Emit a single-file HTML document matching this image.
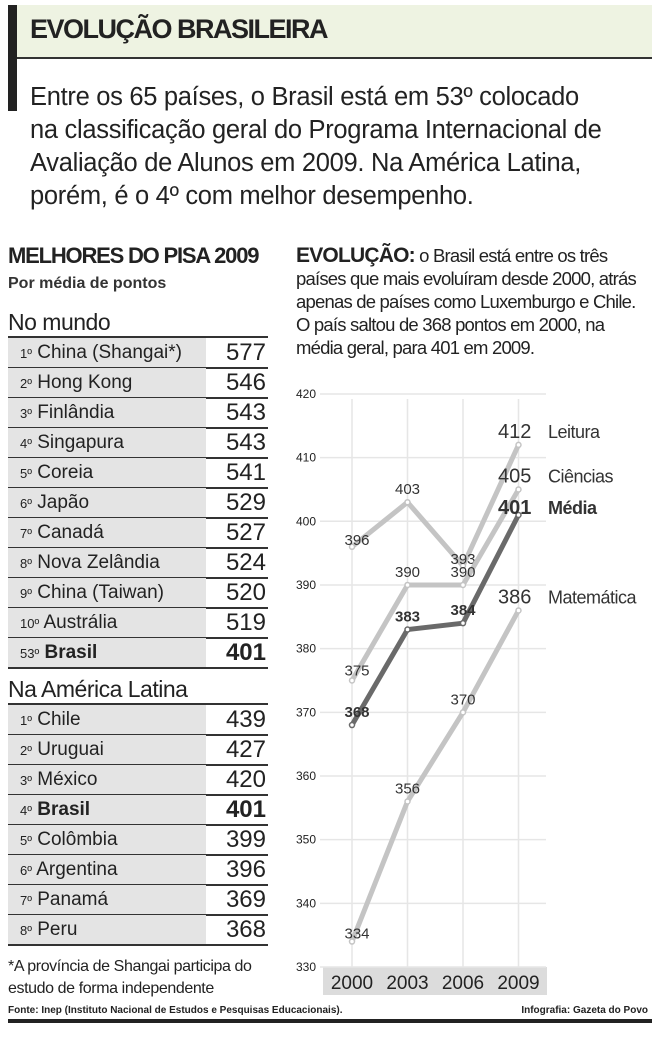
<!DOCTYPE html>
<html><head><meta charset="utf-8"><style>
body{margin:0;width:660px;height:1042px;background:#fff;font-family:"Liberation Sans",sans-serif;color:#222;position:relative;overflow:hidden}
.a{position:absolute;white-space:nowrap}
.row{position:absolute;left:8px;width:260px;height:29px;border-bottom:2px solid #333}
.row .l{position:absolute;left:0;top:0;width:198px;height:29px;background:#e4e4e4;font-size:19px;line-height:30px;padding-left:12px;box-sizing:border-box}
.row .l small{font-size:13px}
.row .v{position:absolute;right:2px;top:0;font-size:24px;line-height:30px}
</style></head><body>
<div class="a" style="left:8px;top:5px;width:9px;height:106px;background:#222"></div>
<div class="a" style="left:17px;top:5px;width:635px;height:52px;background:#eef3e2;border-bottom:2px solid #333"></div>
<div class="a" style="left:30px;top:14px;font-size:27px;font-weight:bold;letter-spacing:-1.5px">EVOLUÇÃO BRASILEIRA</div>
<div class="a" style="left:30px;top:81px;font-size:25.5px;line-height:33px;letter-spacing:-0.3px">Entre os 65 países, o Brasil está em 53º colocado<br>na classificação geral do Programa Internacional de<br>Avaliação de Alunos em 2009. Na América Latina,<br>porém, é o 4º com melhor desempenho.</div>

<div class="a" style="left:8px;top:243px;font-size:22px;font-weight:bold;letter-spacing:-1.2px">MELHORES DO PISA 2009</div>
<div class="a" style="left:8px;top:275px;font-size:16px;font-weight:bold;color:#333">Por média de pontos</div>
<div class="a" style="left:8px;top:309px;font-size:23px;letter-spacing:-0.5px">No mundo</div>
<div id="t1"></div>
<div class="a" style="left:8px;top:676px;font-size:23px;letter-spacing:-0.5px">Na América Latina</div>
<div class="a" style="left:8px;top:956px;font-size:16px;line-height:22px;letter-spacing:-0.4px">*A província de Shangai participa do<br>estudo de forma independente</div>
<div class="a" style="left:8px;top:1005px;font-size:10px;font-weight:bold">Fonte: Inep (Instituto Nacional de Estudos e Pesquisas Educacionais).</div>
<div class="a" style="right:12px;top:1005px;font-size:10px;font-weight:bold">Infografia: Gazeta do Povo</div>
<div class="a" style="left:8px;top:1019px;width:644px;height:4px;background:#222"></div>

<div class="a" style="left:296px;top:244px;font-size:18.5px;line-height:23px;letter-spacing:-0.8px"><b style="font-size:21px">EVOLUÇÃO:</b> o Brasil está entre os três<br>países que mais evoluíram desde 2000, atrás<br>apenas de países como Luxemburgo e Chile.<br>O país saltou de 368 pontos em 2000, na<br>média geral, para 401 em 2009.</div>
<svg id="chart" class="a" style="left:0;top:0" width="660" height="1042"></svg>

<script>
const world=[["1º","China (Shangai*)",577],["2º","Hong Kong",546],["3º","Finlândia",543],["4º","Singapura",543],["5º","Coreia",541],["6º","Japão",529],["7º","Canadá",527],["8º","Nova Zelândia",524],["9º","China (Taiwan)",520],["10º","Austrália",519],["53º","Brasil",401]];
const latam=[["1º","Chile",439],["2º","Uruguai",427],["3º","México",420],["4º","Brasil",401],["5º","Colômbia",399],["6º","Argentina",396],["7º","Panamá",369],["8º","Peru",368]];
const host=document.getElementById('t1');
function rows(list,top,tag){list.forEach((r,i)=>{const d=document.createElement('div');d.className='row';d.style.top=(top+i*30)+'px';


const b=r[1]==='Brasil';
d.innerHTML='<div class="l"><small>'+r[0]+'</small> '+(b?'<b>'+r[1]+'</b>':r[1])+'</div><div class="v">'+(b?'<b>'+r[2]+'</b>':r[2])+'</div>';
host.appendChild(d);});
const t=document.createElement('div');t.className='a';t.style.cssText='left:8px;top:'+(top-2)+'px;width:260px;height:2px;background:#333';host.appendChild(t);}
rows(world,338,'world');rows(latam,705,'latam');

const years=["2000","2003","2006","2009"];
const yTicks=[330,340,350,360,370,380,390,400,410,420];
const leitura=[396,403,393,412];
const ciencias=[375,390,390,405];
const media=[368,383,384,401];
const matematica=[334,356,370,386];
const series=[{n:"Leitura",v:leitura,c:"#c4c4c4",b:false},{n:"Ciências",v:ciencias,c:"#c4c4c4",b:false},{n:"Matemática",v:matematica,c:"#c4c4c4",b:false},{n:"Média",v:media,c:"#6a6a6a",b:true}];
const X=i=>352+i*55.5, Y=v=>967-(v-330)*6.367;
const svg=document.getElementById('chart');const NS='http://www.w3.org/2000/svg';
function el(t,a,txt){const e=document.createElementNS(NS,t);for(const k in a)e.setAttribute(k,a[k]);if(txt!=null)e.textContent=txt;svg.appendChild(e);return e;}
const bg=el('rect',{x:323,y:967,width:224,height:28,fill:'#dcdcdc'});


yTicks.forEach(t=>{const g=el('line',{x1:320,x2:546,y1:Y(t),y2:Y(t),stroke:'#e6e6e6','stroke-width':1.5});


const l=el('text',{x:296,y:Y(t)+4,'font-size':12,fill:'#222'},t);

});
years.forEach((y,i)=>{const g=el('line',{x1:X(i),x2:X(i),y1:Y(420)+5,y2:967,stroke:'#e6e6e6','stroke-width':1.5});


const l=el('text',{x:X(i),y:989,'font-size':19,'text-anchor':'middle',fill:'#222'},y);

});
series.forEach(s=>{const p=el('polyline',{points:s.v.map((v,i)=>X(i)+','+Y(v)).join(' '),fill:'none',stroke:s.c,'stroke-width':5,'stroke-linejoin':'round'});


s.v.forEach((v,i)=>{const c=el('circle',{cx:X(i),cy:Y(v),r:2.5,fill:'#fff',stroke:s.c,'stroke-width':1.5});


if(i<3){let dy=-8;if(s.n==='Leitura'&&i===2)dy=-2;if(s.n==='Matemática'&&i===0)dy=-3;if(s.n==='Leitura'&&i===0)dy=-2;if(s.n==='Ciências'&&i===0)dy=-5;
const t=el('text',{x:X(i)+(i===0?5:0),y:Y(v)+dy,'font-size':15,'text-anchor':'middle',fill:'#333','font-weight':s.b?'bold':'normal'},v);

}
else{const yy=s.n==='Média'?Y(v)-1:Y(v)-7;
const t=el('text',{x:498,y:yy,'font-size':20,fill:'#333','font-weight':s.b?'bold':'normal'},v);


const n=el('text',{x:548,y:yy,'font-size':18,fill:'#333','font-weight':s.b?'bold':'normal','letter-spacing':'-0.5'},s.n);

}});});
</script>
</body></html>
